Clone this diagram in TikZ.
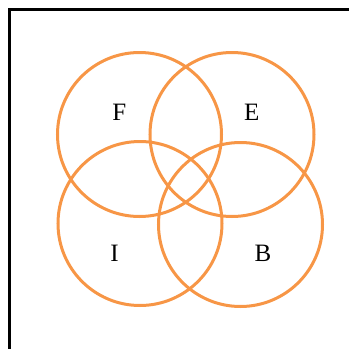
\documentclass[tikz,border=0pt]{standalone}
\usepackage{fontspec}
\setmainfont{Liberation Serif}
\definecolor{laranjaAnel}{RGB}{247,150,70}
\usetikzlibrary{positioning}
\tikzset{
  anel/.style={circle, draw=laranjaAnel, line width=3pt, minimum size=164pt,
               inner sep=0pt},
  rotulo/.style={font=\fontsize{25}{27}\selectfont, inner sep=0pt},
  moldura/.style={line width=2.4pt, black},
}
\begin{document}
\begin{tikzpicture}[x=1pt, y=-1pt]
  \useasboundingbox (0,0) rectangle (349,349);
  \coordinate (cantoA) at (9.5,349);
  \coordinate (cantoB) at (9.5,9.5);
  \coordinate (cantoC) at (349,9.5);
  \draw[moldura] (cantoA) -- (cantoB) -- (cantoC);

  \node[anel] (aF) at (139.5,134.5) {};
  \node[anel] (aE) at (232,134.5) {};
  \node[anel] (aI) at (140,223.5) {};
  \node[anel] (aB) at (240.5,224.5) {};

  \node[rotulo] (lF) at (119.3,112.5) {F};
  \node[rotulo] (lE) at (251.7,112.5) {E};
  \node[rotulo] (lI) at (114.5,253.5) {I};
  \node[rotulo] (lB) at (263,253.5) {B};
\end{tikzpicture}
\end{document}
